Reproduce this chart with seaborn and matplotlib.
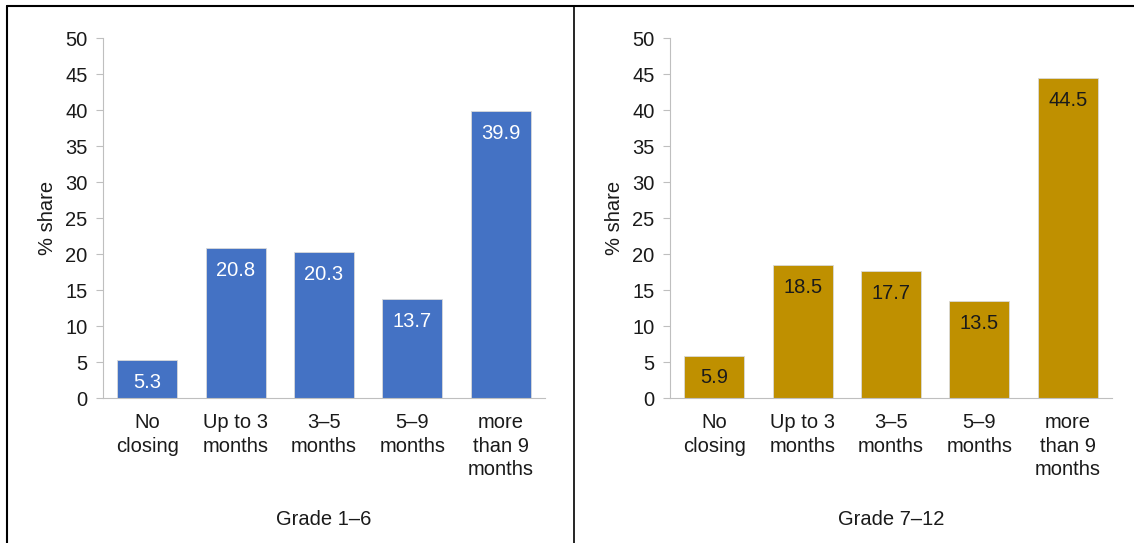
import matplotlib
matplotlib.use("Agg")
import matplotlib.pyplot as plt
from matplotlib.lines import Line2D
import seaborn as sns
import pandas as pd

# %%
categories = ["No\nclosing", "Up to 3\nmonths", "3\u20135\nmonths", "5\u20139\nmonths", "more\nthan 9\nmonths"]
grade_1_6 = [5.3, 20.8, 20.3, 13.7, 39.9]
grade_7_12 = [5.9, 18.5, 17.7, 13.5, 44.5]
panel_titles = ["Grade 1\u20136", "Grade 7\u201312"]
yticks = [0, 5, 10, 15, 20, 25, 30, 35, 40, 45, 50]

# %%
sns.set_style("white")
plt.rcParams["font.family"] = ["Liberation Sans", "DejaVu Sans"]
plt.rcParams["text.color"] = "#1a1a1a"
plt.rcParams["axes.labelcolor"] = "#1a1a1a"
plt.rcParams["xtick.color"] = "#1a1a1a"
plt.rcParams["ytick.color"] = "#1a1a1a"
fs = 14.5

fig = plt.figure(figsize=(11.34, 5.43), dpi=100)
ax1 = fig.add_axes([103 / 1134, 145 / 543, 442 / 1134, 360 / 543])
ax2 = fig.add_axes([670 / 1134, 145 / 543, 442 / 1134, 360 / 543])

panels = [
    (ax1, grade_1_6, "#4472C4", "white", panel_titles[0]),
    (ax2, grade_7_12, "#BF9000", "#1a1a1a", panel_titles[1]),
]

for ax, vals, col, txtcol, title in panels:
    df = pd.DataFrame({"cat": categories, "val": vals})
    sns.barplot(data=df, x="cat", y="val", color=col, saturation=1, width=0.68,
                edgecolor="#D9D9D9", linewidth=0.6, ax=ax)
    ax.bar_label(ax.containers[0], fmt="%.1f", padding=-23, color=txtcol, fontsize=fs)

    ax.set_ylim(0, 50)
    ax.set_xlim(-0.5, 4.5)
    ax.set_yticks(yticks)
    ax.set_ylabel("% share", fontsize=fs, labelpad=6)
    ax.set_xlabel(title, fontsize=fs)
    ax.xaxis.set_label_coords(0.5, -0.31)

    for s in ["top", "right"]:
        ax.spines[s].set_visible(False)
    ax.spines["left"].set_color("#BFBFBF")
    ax.spines["bottom"].set_color("#BFBFBF")
    ax.tick_params(axis="y", length=5, color="#BFBFBF", left=True, pad=6, labelsize=fs,
                   labelcolor="#1a1a1a")
    ax.tick_params(axis="x", length=0, pad=11, labelsize=fs, labelcolor="#1a1a1a")
    for lbl in ax.get_xticklabels():
        lbl.set_linespacing(1.3)

# outer frame
fig.add_artist(Line2D([7 / 1134, 1], [1 - 6 / 543, 1 - 6 / 543], color="black", lw=1.5))
fig.add_artist(Line2D([7 / 1134, 7 / 1134], [0, 1 - 6 / 543], color="black", lw=1.5))
fig.add_artist(Line2D([574 / 1134, 574 / 1134], [0, 1 - 6 / 543], color="black", lw=1.2))

plt.savefig("out.png", dpi=100)
